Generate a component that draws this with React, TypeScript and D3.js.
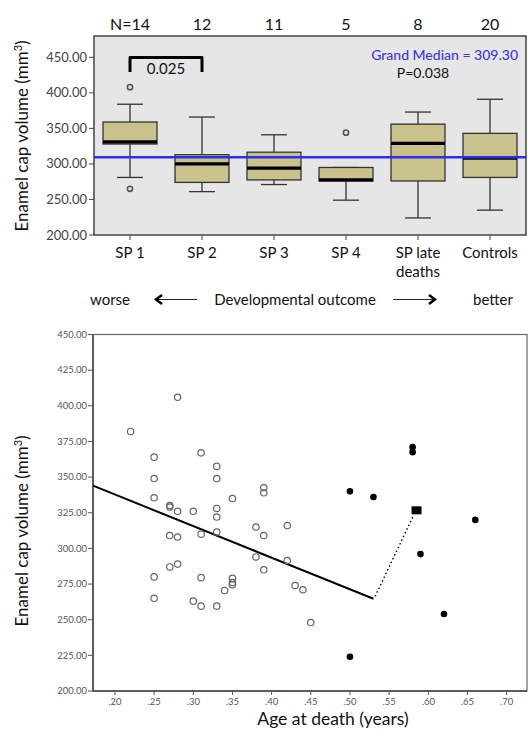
import React from "react";
import * as d3 from "d3";

// top panel: box plots by developmental group
const groups = ["SP 1", "SP 2", "SP 3", "SP 4", "SP late|deaths", "Controls"];
const groupN = ["N=14", "12", "11", "5", "8", "20"];
const lowWhisker = [281, 261, 271, 249, 224, 235];
const q1 = [328, 274, 277.5, 276, 276, 281];
const median = [331, 300, 294, 277.5, 329, 308];
const q3 = [359, 313, 316.5, 295, 356, 343];
const highWhisker = [384, 366, 341, 295, 373, 391];
const outliers = [[265, 408], [], [], [344], [], []];
const grandMedian = 309.3;
const topTicks = [200, 250, 300, 350, 400, 450];
const pairTest = { from: "SP 1", to: "SP 2", label: "0.025" };

// bottom panel: scatter against age at death
const openAge = [0.22, 0.28, 0.25, 0.25, 0.25, 0.31, 0.33, 0.33, 0.35, 0.39, 0.39, 0.27, 0.27, 0.28, 0.30, 0.33, 0.33, 0.27, 0.28, 0.31, 0.33, 0.38, 0.39, 0.38, 0.39, 0.27, 0.28, 0.25, 0.25, 0.31, 0.30, 0.31, 0.33, 0.34, 0.35, 0.35, 0.35, 0.42, 0.42, 0.43, 0.44, 0.45];
const openVol = [382, 406, 364, 349, 335.5, 367, 357.5, 349, 335, 342.5, 339, 330, 329, 326, 326, 328, 322, 309, 308, 310, 311.5, 315, 309, 294, 285, 287, 289, 280, 265, 279.5, 263, 259.5, 259.5, 270.5, 279, 276, 274.5, 316, 291.5, 274, 271, 248];
const lateAge = [0.50, 0.50, 0.53, 0.58, 0.58, 0.59, 0.62, 0.66];
const lateVol = [224, 340, 336, 371, 367.5, 296, 254, 320];
const lateMean = { age: 0.585, vol: 326.7 };
const fitAge = [0.172, 0.53];
const fitVol = [344, 264.7];
const ageTicks = [0.2, 0.25, 0.3, 0.35, 0.4, 0.45, 0.5, 0.55, 0.6, 0.65, 0.7];
const volTicks = [200, 225, 250, 275, 300, 325, 350, 375, 400, 425, 450];

const font = "Lato, 'Open Sans', sans-serif";

export default function App() {
  const x1 = d3.scaleBand().domain(groups).range([94, 526]).padding(0);
  const y1 = d3.scaleLinear().domain([200, 480]).range([235, 36]);
  const bw = x1.bandwidth();
  const boxW = bw * 0.75;
  const capW = bw * 0.36;

  const x2 = d3.scaleLinear().domain([0.172, 0.726]).range([93, 527]);
  const y2 = d3.scaleLinear().domain([200, 450]).range([691, 334.5]);
  const fmt2 = d3.format(".2f");
  const ageFmt = (v: number) => fmt2(v).replace(/^0/, "");

  const fitLine = d3.line<number>().x((d) => x2(fitAge[d])).y((d) => y2(fitVol[d]));

  const bx0 = x1(pairTest.from)! + bw / 2;
  const bx1 = x1(pairTest.to)! + bw / 2;

  return (
    <svg width={528} height={730} style={{ position: "absolute", left: 0, top: 0, fontFamily: font }}>
      {/* ---------- top panel ---------- */}
      <rect x={94} y={36} width={432} height={199} fill="#e6e6e6" stroke="#444" strokeWidth={1.5} />
      {groups.map((g, i) => (
        <text key={"n" + g} x={x1(g)! + bw / 2} y={30} textAnchor="middle" fontSize={16} fill="#111">
          {groupN[i]}
        </text>
      ))}
      {topTicks.map((t) => (
        <g key={"yt" + t}>
          <line x1={89} x2={94} y1={y1(t)} y2={y1(t)} stroke="#444" />
          <text x={87} y={y1(t) + 4.5} textAnchor="end" fontSize={13} fill="#444">
            {fmt2(t)}
          </text>
        </g>
      ))}
      {groups.map((g, i) => {
        const cx = x1(g)! + bw / 2;
        return (
          <g key={"box" + g}>
            <line x1={cx} x2={cx} y1={y1(highWhisker[i])} y2={y1(q3[i])} stroke="#333" strokeWidth={1.3} />
            <line x1={cx} x2={cx} y1={y1(q1[i])} y2={y1(lowWhisker[i])} stroke="#333" strokeWidth={1.3} />
            <line x1={cx - capW / 2} x2={cx + capW / 2} y1={y1(highWhisker[i])} y2={y1(highWhisker[i])} stroke="#333" strokeWidth={1.3} />
            <line x1={cx - capW / 2} x2={cx + capW / 2} y1={y1(lowWhisker[i])} y2={y1(lowWhisker[i])} stroke="#333" strokeWidth={1.3} />
            <rect x={cx - boxW / 2} y={y1(q3[i])} width={boxW} height={y1(q1[i]) - y1(q3[i])} fill="#c9c28a" stroke="#333" strokeWidth={1.3} />
            <line x1={cx - boxW / 2} x2={cx + boxW / 2} y1={y1(median[i])} y2={y1(median[i])} stroke="#000" strokeWidth={3.2} />
            {outliers[i].map((o) => (
              <circle key={o} cx={cx} cy={y1(o)} r={2.6} fill="none" stroke="#555" strokeWidth={1.6} />
            ))}
            <line x1={cx} x2={cx} y1={235} y2={240} stroke="#444" />
            {g.split("|").map((line, k) => (
              <text key={line} x={cx} y={258 + k * 19} textAnchor="middle" fontSize={15} fill="#111">
                {line}
              </text>
            ))}
          </g>
        );
      })}
      <line x1={94} x2={526} y1={y1(grandMedian)} y2={y1(grandMedian)} stroke="#2d2df0" strokeWidth={2.6} />
      <text x={518} y={60} textAnchor="end" fontSize={14} fontWeight={500} fill="#3a3ae0">
        Grand Median = {fmt2(grandMedian)}
      </text>
      <text x={423} y={78} textAnchor="middle" fontSize={14} fill="#111">
        P=0.038
      </text>
      <path d={`M${bx0},${72}V${57.5}H${bx1}V${72}`} fill="none" stroke="#000" strokeWidth={3} strokeLinejoin="round" />
      <text x={(bx0 + bx1) / 2} y={74} textAnchor="middle" fontSize={15} fill="#111">
        {pairTest.label}
      </text>
      <text transform={`translate(28,136) rotate(-90)`} textAnchor="middle" fontSize={17} fill="#111">
        Enamel cap volume (mm<tspan dy={-6} fontSize={11}>3</tspan><tspan dy={6}>)</tspan>
      </text>

      {/* outcome direction row */}
      <text x={110} y={305} textAnchor="middle" fontSize={15} fill="#111">worse</text>
      <line x1={157} x2={197} y1={299.5} y2={299.5} stroke="#222" strokeWidth={1} />
      <path d="M162,295 L156,299.5 L162,304" fill="none" stroke="#000" strokeWidth={2.5} />
      <text x={295} y={305} textAnchor="middle" fontSize={15} fill="#111">Developmental outcome</text>
      <line x1={393} x2={433} y1={299.5} y2={299.5} stroke="#222" strokeWidth={1} />
      <path d="M429,295 L435,299.5 L429,304" fill="none" stroke="#000" strokeWidth={2.5} />
      <text x={493} y={305} textAnchor="middle" fontSize={15} fill="#111">better</text>

      {/* ---------- bottom panel ---------- */}
      <rect x={93} y={334.5} width={434} height={356.5} fill="#fff" stroke="#666" strokeWidth={1.2} />
      <line x1={93} x2={93} y1={334.5} y2={691} stroke="#444" strokeWidth={1.5} />
      <line x1={93} x2={527} y1={691} y2={691} stroke="#444" strokeWidth={1.5} />
      {volTicks.map((t) => (
        <g key={"vt" + t}>
          <line x1={88} x2={93} y1={y2(t)} y2={y2(t)} stroke="#555" />
          <text x={87} y={y2(t) + 3.2} textAnchor="end" fontSize={9.5} fill="#555">
            {fmt2(t)}
          </text>
        </g>
      ))}
      {ageTicks.map((t) => (
        <g key={"at" + t}>
          <line x1={x2(t)} x2={x2(t)} y1={691} y2={695} stroke="#555" />
          <text x={x2(t)} y={705} textAnchor="middle" fontSize={9.5} fill="#555">
            {ageFmt(t)}
          </text>
        </g>
      ))}
      <path d={fitLine([0, 1]) ?? ""} fill="none" stroke="#000" strokeWidth={2} />
      <line
        x1={x2(fitAge[1]) + 2}
        y1={y2(fitVol[1]) - 3}
        x2={x2(lateMean.age) - 3}
        y2={y2(lateMean.vol) + 5}
        stroke="#000"
        strokeWidth={1.6}
        strokeDasharray="0.1 4"
        strokeLinecap="round"
      />
      {openAge.map((a, i) => (
        <circle key={"o" + i} cx={x2(a)} cy={y2(openVol[i])} r={3.2} fill="none" stroke="#666" strokeWidth={1.2} />
      ))}
      {lateAge.map((a, i) => (
        <circle key={"l" + i} cx={x2(a)} cy={y2(lateVol[i])} r={3.3} fill="#000" />
      ))}
      <rect x={x2(lateMean.age) - 5} y={y2(lateMean.vol) - 4} width={10} height={8} fill="#000" />
      <text x={333} y={725} textAnchor="middle" fontSize={17.5} fill="#111">
        Age at death (years)
      </text>
      <text transform={`translate(28,531) rotate(-90)`} textAnchor="middle" fontSize={17} fill="#111">
        Enamel cap volume (mm<tspan dy={-6} fontSize={11}>3</tspan><tspan dy={6}>)</tspan>
      </text>
    </svg>
  );
}
